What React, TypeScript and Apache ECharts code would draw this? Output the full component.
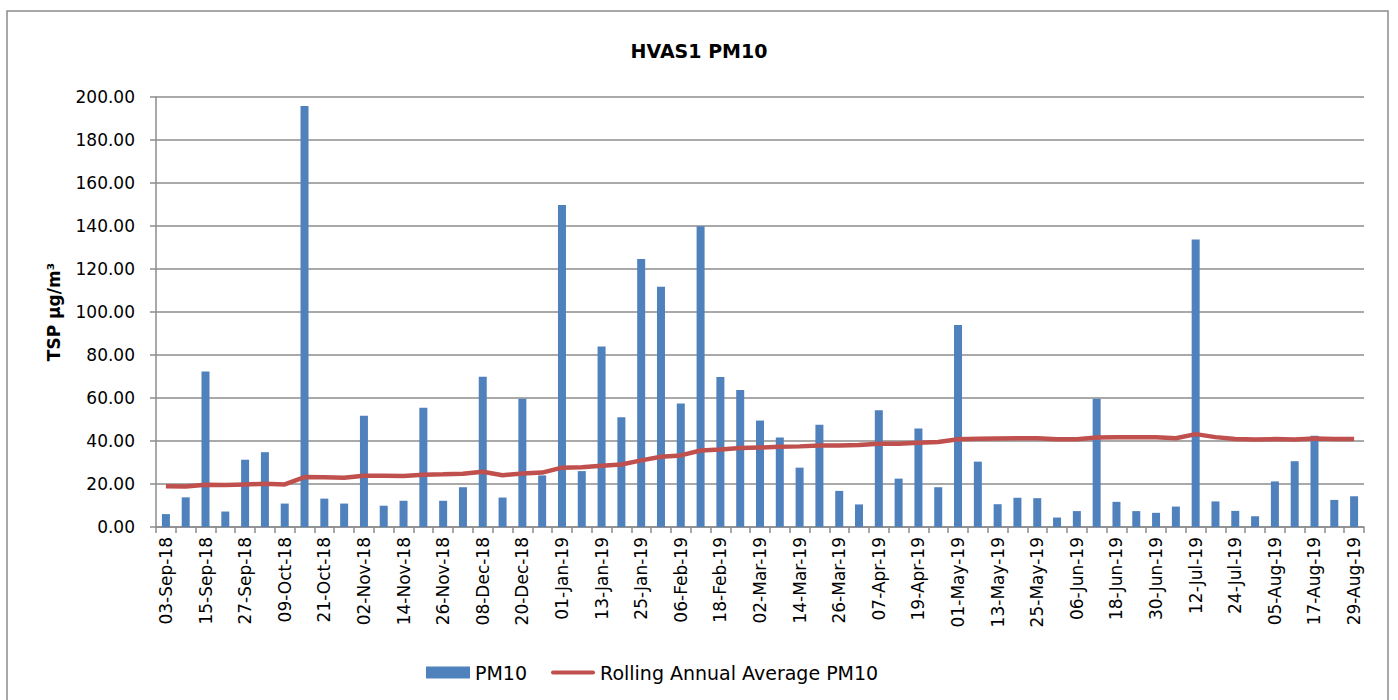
import React, { useEffect, useRef } from "react";
import * as echarts from "echarts";

const categories: string[] = [
  "03-Sep-18", "09-Sep-18", "15-Sep-18", "21-Sep-18", "27-Sep-18",
  "03-Oct-18", "09-Oct-18", "15-Oct-18", "21-Oct-18", "27-Oct-18",
  "02-Nov-18", "08-Nov-18", "14-Nov-18", "20-Nov-18", "26-Nov-18",
  "02-Dec-18", "08-Dec-18", "14-Dec-18", "20-Dec-18", "26-Dec-18",
  "01-Jan-19", "07-Jan-19", "13-Jan-19", "19-Jan-19", "25-Jan-19", "31-Jan-19",
  "06-Feb-19", "12-Feb-19", "18-Feb-19", "24-Feb-19",
  "02-Mar-19", "08-Mar-19", "14-Mar-19", "20-Mar-19", "26-Mar-19",
  "01-Apr-19", "07-Apr-19", "13-Apr-19", "19-Apr-19", "25-Apr-19",
  "01-May-19", "07-May-19", "13-May-19", "19-May-19", "25-May-19", "31-May-19",
  "06-Jun-19", "12-Jun-19", "18-Jun-19", "24-Jun-19", "30-Jun-19",
  "06-Jul-19", "12-Jul-19", "18-Jul-19", "24-Jul-19", "30-Jul-19",
  "05-Aug-19", "11-Aug-19", "17-Aug-19", "23-Aug-19", "29-Aug-19",
];

const pm10: number[] = [
  6.0, 13.8, 72.3, 7.2, 31.3, 34.8, 10.9, 195.8, 13.2, 10.9,
  51.8, 9.9, 12.2, 55.5, 12.2, 18.5, 69.9, 13.7, 59.7, 24.0,
  149.8, 26.0, 84.0, 51.0, 124.7, 111.7, 57.4, 139.9, 69.8, 63.7,
  49.5, 41.6, 27.6, 47.6, 16.8, 10.5, 54.3, 22.5, 45.8, 18.5,
  94.0, 30.4, 10.6, 13.6, 13.4, 4.4, 7.4, 59.7, 11.7, 7.4,
  6.6, 9.5, 133.7, 11.9, 7.5, 5.0, 21.2, 30.6, 42.5, 12.6,
  14.3,
];

const rollingAvg: number[] = [
  18.9, 18.8, 19.7, 19.5, 19.8, 20.1, 19.8, 23.2, 23.1, 22.9,
  23.8, 23.8, 23.7, 24.3, 24.5, 24.8, 25.7, 24.1, 24.9, 25.3,
  27.6, 27.8, 28.5, 29.1, 31.0, 32.7, 33.3, 35.6, 36.1, 36.7,
  37.0, 37.3, 37.5, 37.9, 37.9, 38.1, 38.7, 38.7, 39.2, 39.5,
  40.8, 41.0, 41.2, 41.3, 41.3, 40.8, 40.8, 41.6, 41.8, 41.8,
  41.8, 41.3, 43.2, 41.8, 40.9, 40.7, 40.9, 40.7, 41.2, 40.9,
  40.9,
];

const yTicks = { min: 0, max: 200, interval: 20 };

const FONT = "'DejaVu Sans', 'Noto Sans', sans-serif";
const GRID_GREY = "#8c8c8c";

export default function App() {
  const ref = useRef<HTMLDivElement>(null);

  useEffect(() => {
    if (!ref.current) return;
    const chart = echarts.init(ref.current, null, { renderer: "svg" });
    chart.setOption({
      animation: false,
      backgroundColor: "#ffffff",
      textStyle: { fontFamily: FONT },
      title: {
        text: "HVAS1 PM10",
        left: "center",
        top: 36,
        textStyle: { fontFamily: FONT, fontSize: 19, fontWeight: "bold", color: "#000" },
      },
      graphic: [
        {
          type: "rect",
          shape: { x: 7, y: 11, width: 1381, height: 692 },
          style: { fill: "none", stroke: GRID_GREY, lineWidth: 1.5 },
          silent: true,
          z: 0,
        },
      ],
      legend: {
        left: 421,
        top: 658,
        itemGap: 24,
        itemWidth: 44,
        itemHeight: 12,
        textStyle: { fontFamily: FONT, fontSize: 19, color: "#000" },
        data: [
          { name: "PM10", icon: "rect" },
          {
            name: "Rolling Annual Average PM10",
            icon: "path://M2,0 L42,0 A2,2 0 0 1 42,4 L2,4 A2,2 0 0 1 2,0 Z",
          },
        ],
      },
      grid: { left: 156, right: 34, top: 97, bottom: 173, containLabel: false },
      xAxis: {
        type: "category",
        data: categories,
        boundaryGap: true,
        axisLine: { show: true, lineStyle: { color: GRID_GREY, width: 1.5 } },
        axisTick: { show: true, interval: 0, length: 6, lineStyle: { color: GRID_GREY, width: 1.5 } },
        axisLabel: {
          interval: 1,
          rotate: 90,
          margin: 10,
          fontFamily: FONT,
          fontSize: 17,
          color: "#000",
        },
      },
      yAxis: {
        type: "value",
        min: yTicks.min,
        max: yTicks.max,
        interval: yTicks.interval,
        name: "TSP µg/m³",
        nameLocation: "middle",
        nameRotate: 90,
        nameGap: 94,
        nameTextStyle: { fontFamily: FONT, fontSize: 17, fontWeight: "bold", color: "#000" },
        axisLine: { show: true, lineStyle: { color: GRID_GREY, width: 1.5 } },
        axisTick: { show: true, length: 6, lineStyle: { color: GRID_GREY, width: 1.5 } },
        axisLabel: {
          formatter: (v: number) => v.toFixed(2),
          margin: 21,
          fontFamily: FONT,
          fontSize: 17,
          color: "#000",
        },
        splitLine: { show: true, lineStyle: { color: GRID_GREY, width: 1.5 } },
      },
      series: [
        {
          name: "PM10",
          type: "bar",
          data: pm10,
          barWidth: 8,
          itemStyle: { color: "#4F81BD" },
          z: 2,
        },
        {
          name: "Rolling Annual Average PM10",
          type: "line",
          data: rollingAvg,
          symbol: "none",
          showSymbol: false,
          lineStyle: { color: "#C0504D", width: 4.5 },
          itemStyle: { color: "#C0504D" },
          z: 3,
        },
      ],
    });
    return () => chart.dispose();
  }, []);

  return (
    <div
      ref={ref}
      style={{ position: "absolute", left: 0, top: 0, width: 1398, height: 700 }}
    />
  );
}
